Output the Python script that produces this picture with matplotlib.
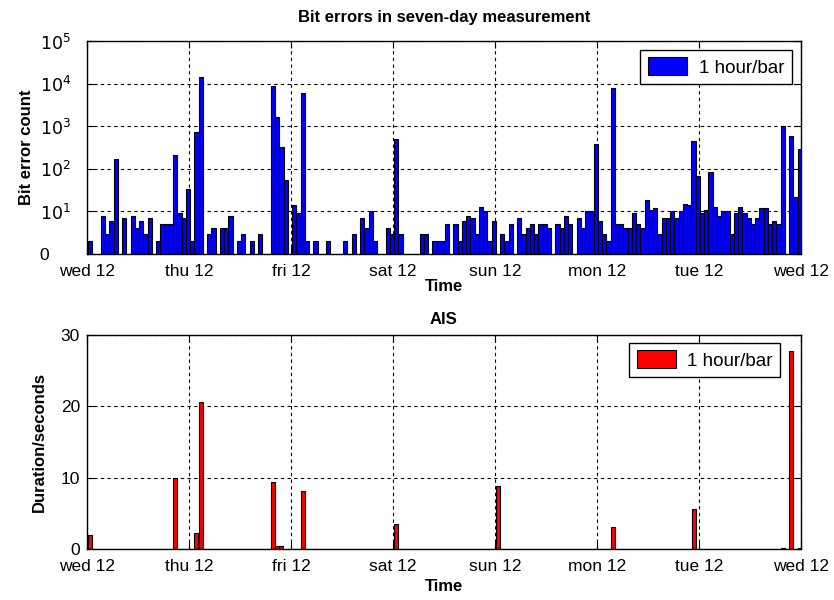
import numpy as np
from matplotlib import pyplot as plt

plt.rcParams['font.family'] = ['Liberation Sans', 'DejaVu Sans']

# bit error counts per hour, one list per day (starting wed 12:00)
wed = [2, 0, 0, 8, 3, 6, 170, 0, 7, 0, 8, 4, 6, 3, 7, 0, 2, 5, 5, 5, 210, 9, 7, 33]
thu = [2, 750, 14000, 0, 3, 4, 0, 4, 4, 8, 0, 2, 3, 0, 2, 0, 3, 0, 0, 9000, 1650, 316, 54, 0]
fri = [14, 9, 5900, 2, 0, 2, 0, 0, 2, 0, 0, 0, 2, 0, 3, 0, 7, 4, 10, 2, 0, 0, 4, 3]
sat = [500, 3, 0, 0, 0, 0, 3, 3, 0, 2, 2, 2, 5, 0, 5, 2, 6, 8, 7, 3, 13, 10, 2, 6]
sun = [0, 3, 2, 5, 0, 7, 3, 4, 5, 3, 5, 5, 4, 0, 5, 4, 8, 5, 0, 7, 4, 10, 10, 390]
mon = [6, 3, 2, 7800, 5, 5, 4, 4, 9, 5, 4, 19, 11, 12, 3, 7, 7, 10, 7, 10, 15, 14, 450, 66]
tue = [9, 11, 82, 13, 8, 10, 10, 3, 9, 13, 9, 7, 5, 7, 12, 12, 5, 6, 5, 1000, 0, 590, 22, 290]

# AIS duration (seconds), hour index from start
ais_hour = [0, 20, 25, 26, 43, 44, 45, 50, 72, 96, 123, 142, 163, 165, 167]
ais_sec = [2.0, 10.0, 2.2, 20.6, 9.4, 0.4, 0.4, 8.1, 3.5, 8.8, 3.1, 5.6, 0.15, 27.7, 0.2]

day_labels = ['wed 12', 'thu 12', 'fri 12', 'sat 12', 'sun 12', 'mon 12', 'tue 12', 'wed 12']

counts = np.array(wed + thu + fri + sat + sun + mon + tue)
hours = np.arange(len(counts)) + 0.75
nz = counts > 0

fig = plt.figure(figsize=(8.34, 6.0), dpi=100)
ax1 = fig.add_axes([0.1043, 0.5767, 0.856, 0.355])
ax2 = fig.add_axes([0.1043, 0.085, 0.856, 0.3567])

grid_kw = dict(color='black', linestyle=(0, (3, 3)), linewidth=0.8)

# top: bit errors
ax1.bar(hours[nz], counts[nz], width=1.0, color='#0000ff', edgecolor='black',
        linewidth=0.8, log=True, label='1 hour/bar')
ax1.set_yscale('log')
ax1.set_ylim(1, 1e5)
ax1.set_yticks([1, 10, 100, 1e3, 1e4, 1e5])
ax1.set_yticklabels(['0', '$10^1$', '$10^2$', '$10^3$', '$10^4$', '$10^5$'])
ax1.minorticks_off()
ax1.set_title('Bit errors in seven-day measurement', fontsize=12, fontweight='bold', pad=14)
ax1.set_ylabel('Bit error count', fontsize=12, fontweight='bold', labelpad=4)

# bottom: AIS
ax2.bar(np.array(ais_hour) + 0.75, ais_sec, width=0.9, color='#ff0000', edgecolor='black',
        linewidth=0.8, label='1 hour/bar')
ax2.set_ylim(0, 30)
ax2.set_yticks([0, 10, 20, 30])
ax2.set_title('AIS', fontsize=12, fontweight='bold', pad=8)
ax2.set_ylabel('Duration/seconds', fontsize=12, fontweight='bold', labelpad=10)

legend_anchor = {ax1: (0.987, 0.958), ax2: (0.971, 0.963)}

for ax in (ax1, ax2):
    ax.set_xlim(0, 168)
    ax.set_xticks(np.arange(0, 169, 24))
    ax.set_xticklabels(day_labels)
    ax.grid(True, **grid_kw)
    ax.set_axisbelow(True)
    ax.tick_params(direction='in', length=5, top=True, right=True, labelsize=12.5)
    ax.tick_params(axis='x', pad=7)
    ax.tick_params(axis='y', pad=5)
    for s in ax.spines.values():
        s.set_linewidth(1.0)
    leg = ax.legend(loc='upper right', bbox_to_anchor=legend_anchor[ax], borderaxespad=0,
                    fontsize=13.5, fancybox=False, framealpha=1, edgecolor='black',
                    handlelength=2.1, handleheight=1.1, handletextpad=0.6)
    leg.get_frame().set_linewidth(1.0)

ax1.set_xlabel('Time', fontsize=12, fontweight='bold', labelpad=0)
ax2.set_xlabel('Time', fontsize=12, fontweight='bold', labelpad=4)

# top chart tick labels sit further left, left-aligned
ax1.tick_params(axis='y', pad=34)
for lab in ax1.get_yticklabels():
    lab.set_ha('left')

fig.savefig('out.png', dpi=100)
